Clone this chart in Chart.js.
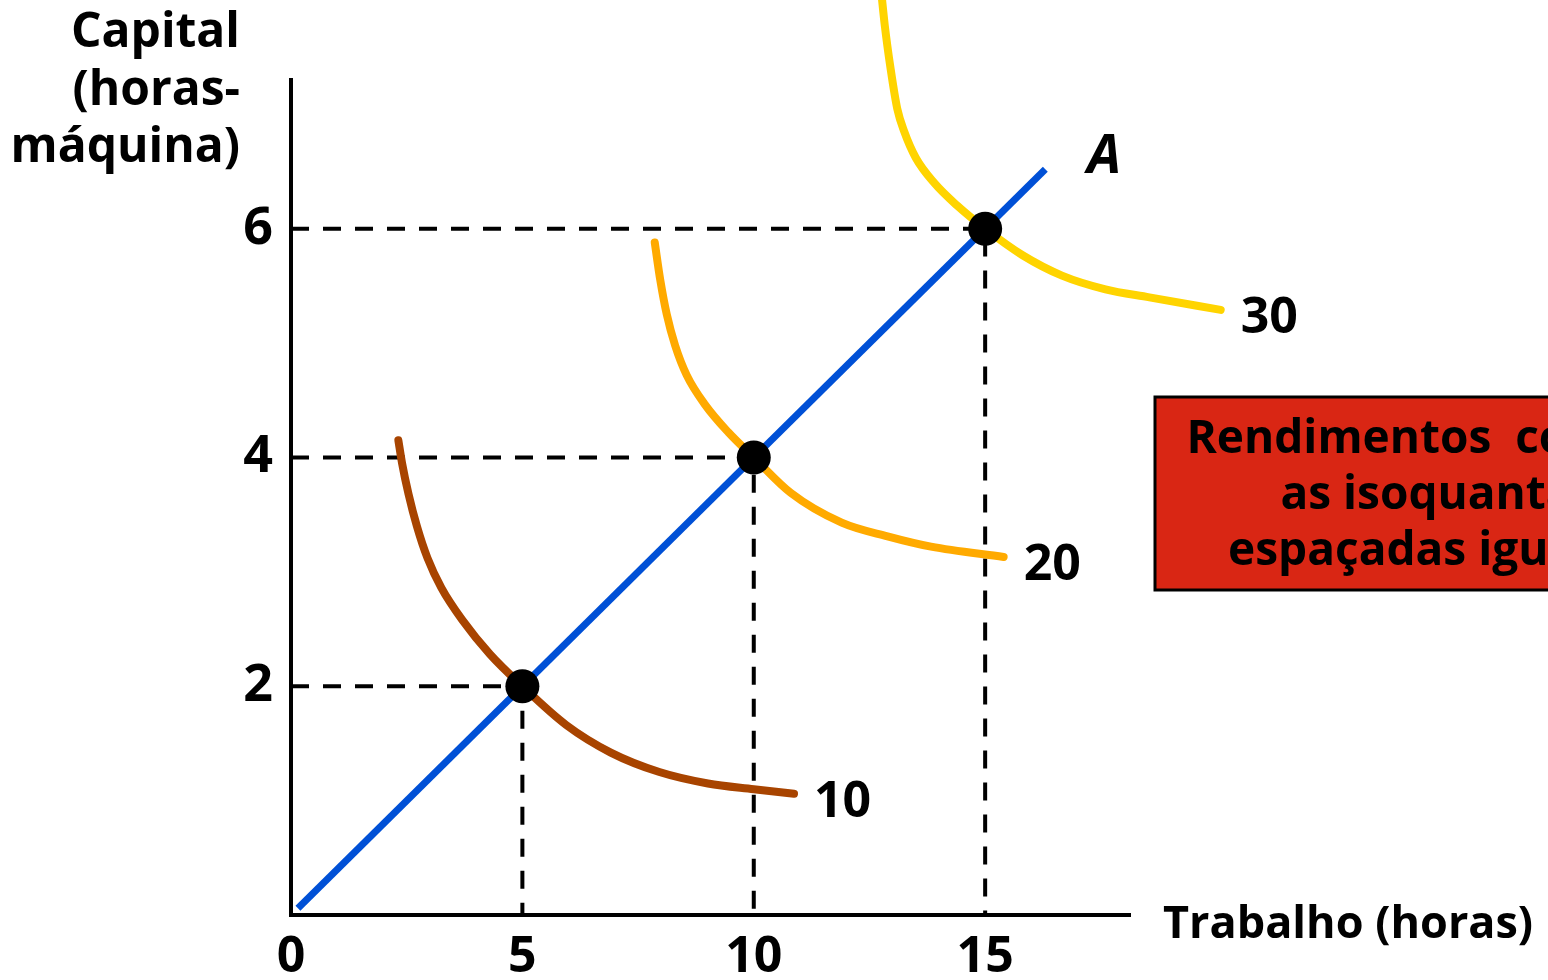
<!DOCTYPE html>
<html>
<head>
<meta charset="utf-8">
<script src="https://cdn.jsdelivr.net/npm/chart.js@4.4.0/dist/chart.umd.min.js"></script>
<style>
  html, body { margin: 0; padding: 0; background: #fff; }
</style>
</head>
<body>
<canvas id="grafico" width="1548" height="980"></canvas>
<script>
// ticks
const xTicks = [0, 5, 10, 15];
const yTicks = [2, 4, 6];

// combinações sobre o raio A (trabalho, capital)
const trabalho = [5, 10, 15];
const capital = [2, 4, 6];

// raio A
const raioX = [0.15, 16.3];
const raioY = [0.06, 6.52];

// isoquantas
const q10x = [2.32, 2.40, 2.54, 2.72, 2.95, 3.25, 3.70, 4.30, 5, 5.95, 6.91, 7.96, 9.01, 10, 10.87];
const q10y = [4.15, 3.95, 3.68, 3.40, 3.12, 2.86, 2.58, 2.28, 2, 1.66, 1.42, 1.25, 1.15, 1.10, 1.06];
const q20x = [7.86, 7.98, 8.12, 8.30, 8.55, 8.95, 9.45, 10, 10.80, 11.90, 12.89, 13.83, 15.4];
const q20y = [5.88, 5.55, 5.25, 4.98, 4.72, 4.46, 4.22, 4, 3.69, 3.43, 3.31, 3.22, 3.13];
const q30x = [12.76, 12.83, 12.96, 13.10, 13.25, 13.50, 13.90, 14.40, 15, 15.80, 16.66, 17.6, 18.55, 20.09];
const q30y = [8.05, 7.78, 7.39, 7.05, 6.85, 6.62, 6.40, 6.20, 6, 5.77, 5.59, 5.47, 5.40, 5.29];
const isoLabels = ['10', '20', '30'];

const FONT = "'Open Sans', 'DejaVu Sans', sans-serif";

function pts(xs, ys) {
  return xs.map(function (x, i) { return { x: x, y: ys[i] }; });
}

//linhas tracejadas até os eixos
let guias = trabalho.map(function (t, i) {
  return {
    label: 'guia' + i,
    data: [{ x: 0, y: capital[i] }, { x: t, y: capital[i] }, { x: t, y: 0 }],
    showLine: true,
    borderColor: '#000',
    borderWidth: 4,
    borderDash: [18, 14],
    pointRadius: 0,
    tension: 0,
    clip: false,
    order: 5
  };
});

function isoquanta(label, xs, ys, cor) {
  return {
    label: label,
    data: pts(xs, ys),
    showLine: true,
    borderColor: cor,
    borderWidth: 8,
    borderCapStyle: 'round',
    cubicInterpolationMode: 'monotone',
    pointRadius: 0,
    clip: false,
    order: 2
  };
}

const textos = {
  id: 'textos',
  afterDraw(chart) {
    const ctx = chart.ctx;
    ctx.save();
    ctx.fillStyle = '#000';

    // titulo eixo y
    ctx.font = 'bold 48px ' + FONT;
    ctx.textAlign = 'right';
    ctx.textBaseline = 'alphabetic';
    ctx.fillText('Capital', 240, 47);
    ctx.fillText('(horas-', 240, 105);
    ctx.fillText('máquina)', 240, 162);

    // titulo eixo x
    ctx.font = 'bold 45px ' + FONT;
    ctx.textAlign = 'left';
    ctx.fillText('Trabalho (horas)', 1163, 938);

    // rótulos das isoquantas
    ctx.font = 'bold 50px ' + FONT;
    ctx.textBaseline = 'middle';
    [2, 3, 4].forEach(function (d, i) {
      const meta = chart.getDatasetMeta(d);
      const p = meta.data[meta.data.length - 1];
      ctx.fillText(isoLabels[i], p.x + 20, p.y + 9);
    });

    // A
    const raio = chart.getDatasetMeta(1).data[1];
    ctx.font = 'italic bold 54px ' + FONT;
    ctx.fillText('A', raio.x + 42, raio.y - 12);

    // caixa vermelha
    ctx.fillStyle = '#d92614';
    ctx.fillRect(1155, 397, 420, 193);
    ctx.strokeStyle = '#000';
    ctx.lineWidth = 3;
    ctx.strokeRect(1155, 397, 420, 193);
    ctx.fillStyle = '#000';
    ctx.font = 'bold 46px ' + FONT;
    ctx.textAlign = 'center';
    ctx.textBaseline = 'alphabetic';
    ctx.fillText('Rendimentos  constantes:', 1484, 453);
    ctx.fillText('as isoquantas são', 1484, 509);
    ctx.fillText('espaçadas igualmente', 1484, 565);
    ctx.restore();
  }
};

new Chart(document.getElementById('grafico'), {
  type: 'scatter',
  data: {
    datasets: [
      {
        label: 'pontos',
        data: pts(trabalho, capital),
        showLine: false,
        pointRadius: 17,
        pointBackgroundColor: '#000',
        pointBorderWidth: 0,
        clip: false,
        order: 0
      },
      {
        label: 'A',
        data: pts(raioX, raioY),
        showLine: true,
        borderColor: '#0050d6',
        borderWidth: 7,
        pointRadius: 0,
        clip: false,
        order: 1
      },
      isoquanta('10', q10x, q10y, '#a84400'),
      isoquanta('20', q20x, q20y, '#ffaa00'),
      isoquanta('30', q30x, q30y, '#ffd400')
    ].concat(guias)
  },
  options: {
    responsive: false,
    devicePixelRatio: 1,
    animation: false,
    events: [],
    layout: { padding: { left: 231, top: 80, right: 418, bottom: 5 } },
    plugins: { legend: { display: false }, tooltip: { enabled: false } },
    scales: {
      x: {
        type: 'linear',
        bounds: 'data',
        afterDataLimits: function (s) { s.min = 0; s.max = 18.13; },
        afterBuildTicks: function (s) { s.ticks = xTicks.map(function (v) { return { value: v }; }); },
        afterFit: function (s) { s.height = 60; },
        grid: { display: false, drawTicks: false },
        border: { display: true, color: '#000', width: 4 },
        ticks: {
          color: '#000',
          padding: 13,
          maxRotation: 0,
          font: { family: FONT, size: 50, weight: 'bold' }
        }
      },
      y: {
        type: 'linear',
        bounds: 'data',
        afterDataLimits: function (s) { s.min = 0; s.max = 7.3; },
        afterBuildTicks: function (s) { s.ticks = yTicks.map(function (v) { return { value: v }; }); },
        afterFit: function (s) { s.width = 60; },
        grid: { display: false, drawTicks: false },
        border: { display: true, color: '#000', width: 4 },
        ticks: {
          color: '#000',
          padding: 18,
          font: { family: FONT, size: 52, weight: 'bold' }
        }
      }
    }
  },
  plugins: [textos]
});
</script>
</body>
</html>
